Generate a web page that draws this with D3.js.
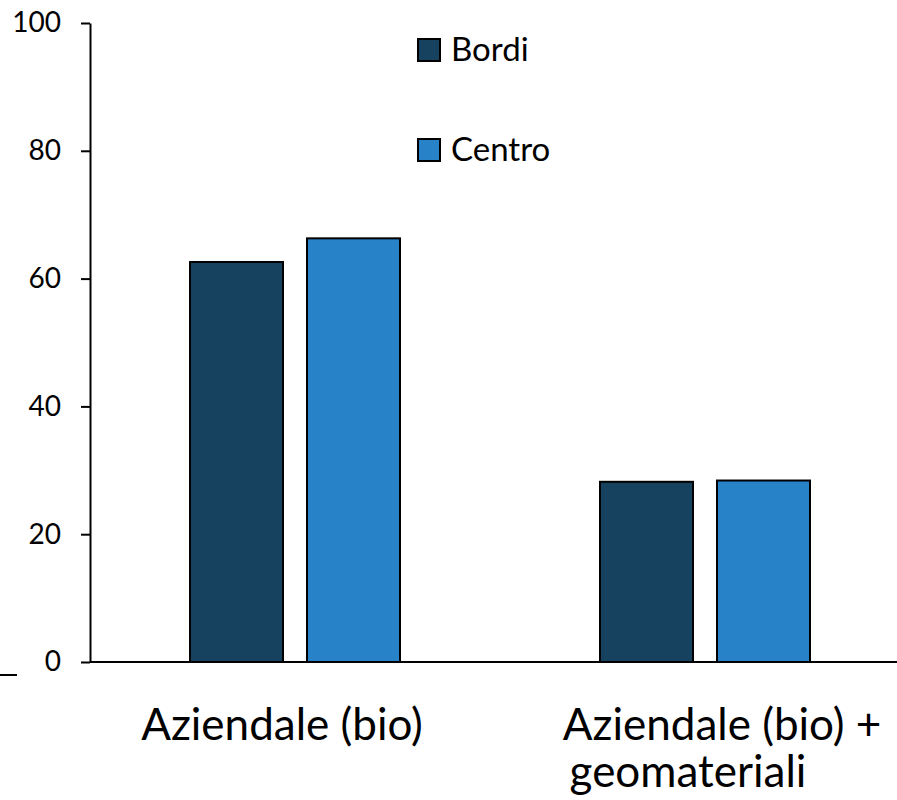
<!DOCTYPE html>
<html>
<head>
<meta charset="utf-8">
<script src="https://cdn.jsdelivr.net/npm/d3@7/dist/d3.min.js"></script>
<style>
  html, body { margin: 0; padding: 0; background: #fff; }
  svg { display: block; font-family: Lato, "Open Sans", sans-serif; }
</style>
</head>
<body>
<svg id="chart" width="897" height="800"></svg>
<script>
// Categories (each label split into its displayed lines)
const categories = ["Aziendale (bio)", "Aziendale (bio) + geomateriali"];
const categoryLines = [["Aziendale (bio)"], ["Aziendale (bio) +", "geomateriali"]];
const series = ["Bordi", "Centro"];
const bordiValues = [62.6, 28.2];
const centroValues = [66.3, 28.4];
const yTicks = [0, 20, 40, 60, 80, 100];
const colors = ["#17425F", "#2882C7"];

const svg = d3.select("#chart");
const plotLeft = 90, plotBottom = 662, plotTop = 23;

const y = d3.scaleLinear().domain([0, 100]).range([plotBottom, plotTop]);
const x0 = d3.scaleBand().domain(categories).range([plotLeft, plotLeft + 820]);
const x1 = d3.scaleBand().domain(series).range([0, 210]).paddingInner(24 / 117);
const groupOffset = (x0.bandwidth() - 210) / 2;

const valuesBySeries = [bordiValues, centroValues];
const rows = categories.map((c, i) => ({
  category: c,
  values: series.map((s, k) => ({ series: s, value: valuesBySeries[k][i], color: colors[k] }))
}));

// Bars
const groups = svg.append("g").selectAll("g").data(rows).join("g")
  .attr("transform", d => `translate(${x0(d.category) + groupOffset},0)`);
groups.selectAll("rect").data(d => d.values).join("rect")
  .attr("x", d => x1(d.series))
  .attr("y", d => y(d.value))
  .attr("width", x1.bandwidth())
  .attr("height", d => y(0) - y(d.value))
  .attr("fill", d => d.color)
  .attr("stroke", "#000")
  .attr("stroke-width", 2);

// Y axis
const yAxis = svg.append("g")
  .attr("transform", `translate(${plotLeft},0)`)
  .call(d3.axisLeft(y).tickValues(yTicks).tickSize(9).tickPadding(20).tickSizeOuter(0));
yAxis.select(".domain").attr("stroke", "#000").attr("stroke-width", 2);
yAxis.selectAll(".tick line").attr("stroke", "#000").attr("stroke-width", 2);
yAxis.selectAll(".tick text")
  .attr("font-family", "Lato, sans-serif")
  .attr("font-size", 28)
  .attr("fill", "#000");

// X axis baseline
svg.append("line")
  .attr("x1", plotLeft).attr("x2", 897)
  .attr("y1", y(0)).attr("y2", y(0))
  .attr("stroke", "#000").attr("stroke-width", 2);

// Short stray stroke at bottom-left
svg.append("line")
  .attr("x1", 0).attr("x2", 17)
  .attr("y1", 675).attr("y2", 675)
  .attr("stroke", "#000").attr("stroke-width", 2);

// Category labels, one text element per line
const lineShift = [[-13], [17, -17]];
categories.forEach((c, i) => {
  categoryLines[i].forEach((line, j) => {
    svg.append("text")
      .attr("font-size", 44)
      .attr("fill", "#000")
      .attr("text-anchor", "middle")
      .attr("x", x0(c) + x0.bandwidth() / 2 + lineShift[i][j])
      .attr("y", 740 + j * 47)
      .text(line);
  });
});

// Legend
const legend = svg.append("g").selectAll("g").data(series).join("g")
  .attr("transform", (d, i) => `translate(418,${39 + i * 100})`);
legend.append("rect")
  .attr("width", 22).attr("height", 22)
  .attr("fill", (d, i) => colors[i])
  .attr("stroke", "#000").attr("stroke-width", 2);
legend.append("text")
  .attr("x", 33).attr("y", 22)
  .attr("font-size", 33)
  .attr("fill", "#000")
  .text(d => d);
</script>
</body>
</html>
